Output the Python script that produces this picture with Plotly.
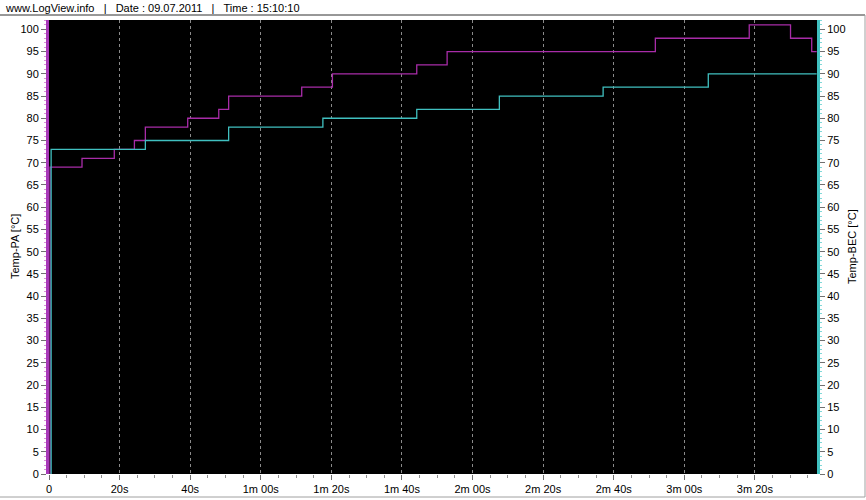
import plotly.graph_objects as go

# ---- data ----
pa_time = [0.3, 0.3, 9.35, 18.5, 24.2, 27.3, 39.3, 48.1, 50.9, 71.6, 80.3, 104.2, 112.8, 171.8, 198.4, 210.1, 216.1, 217.5]
pa_vals = [0, 69, 71, 73, 75, 78, 80, 82, 85, 87, 90, 92, 95, 98, 101, 98, 95, 95]

bec_time = [0.6, 0.6, 27.3, 50.9, 77.6, 104.2, 127.6, 157.0, 186.8, 217.5]
bec_vals = [0, 73, 75, 78, 80, 82, 85, 87, 90, 90]

x_tickvals = [0, 20, 40, 60, 80, 100, 120, 140, 160, 180, 200]
x_ticktext = ["0", "20s", "40s", "1m 00s", "1m 20s", "1m 40s", "2m 00s", "2m 20s", "2m 40s", "3m 00s", "3m 20s"]
y_tickvals = list(range(0, 101, 5))

header = "www.LogView.info\u00a0\u00a0\u00a0|\u00a0\u00a0\u00a0Date : 09.07.2011\u00a0\u00a0\u00a0|\u00a0\u00a0\u00a0Time : 15:10:10"

PA_COLOR = "#a82ca8"
BEC_COLOR = "#40c0c0"
FONT = "Liberation Sans, Arial, sans-serif"

W, H = 866, 500
L, R, T, B = 49, 817, 20, 474
pw, ph = R - L, B - T

def px(x):
    return (x - L) / pw

def py(y):
    return (B - y) / ph

fig = go.Figure()
fig.add_trace(go.Scatter(x=pa_time, y=pa_vals, mode="lines", line=dict(color=PA_COLOR, width=1.3, shape="hv"),
                         name="Temp-PA", yaxis="y"))
fig.add_trace(go.Scatter(x=bec_time, y=bec_vals, mode="lines", line=dict(color=BEC_COLOR, width=1.3, shape="hv"),
                         name="Temp-BEC", yaxis="y2"))

fig.update_layout(
    width=W, height=H,
    margin=dict(l=L, r=W - R, t=T, b=H - B, pad=0, autoexpand=False),
    paper_bgcolor="white",
    plot_bgcolor="black",
    showlegend=False,
    font=dict(family=FONT, size=11, color="black"),
    xaxis=dict(
        range=[0, 217.6], tickvals=x_tickvals, ticktext=x_ticktext, automargin=False,
        ticks="outside", ticklen=5, tickcolor="#707070", tickwidth=1,
        minor=dict(dtick=5, tick0=0, ticks="outside", ticklen=3, tickcolor="#909090", showgrid=False),
        showgrid=True, gridcolor="#8a8a8a", griddash="3px,3px", gridwidth=1,
        zeroline=False, showline=False, tickfont=dict(size=11, family=FONT),
    ),
    yaxis=dict(
        range=[0, 102.1], tickvals=y_tickvals, ticks="outside", ticklen=5, tickcolor="#707070",
        minor=dict(dtick=1, tick0=0, ticks="outside", ticklen=2, tickcolor="#d890d8", showgrid=False),
        showgrid=False, zeroline=False, showline=True, linecolor="#a838b8", linewidth=3, automargin=False,
        tickfont=dict(size=11, family=FONT),
    ),
    yaxis2=dict(
        range=[0, 102.1], tickvals=y_tickvals, ticks="outside", ticklen=5, tickcolor="#707070",
        minor=dict(dtick=1, tick0=0, ticks="outside", ticklen=2, tickcolor="#80d8d8", showgrid=False),
        overlaying="y", side="right", anchor="x", automargin=False,
        showgrid=False, zeroline=False, showline=True, linecolor=BEC_COLOR, linewidth=3,
        tickfont=dict(size=11, family=FONT),
    ),
    annotations=[
        dict(text=header, x=px(3), y=py(8), xref="paper", yref="paper", xanchor="left", yanchor="middle",
             showarrow=False, font=dict(size=11, family=FONT, color="black")),
        dict(text="Temp-PA [°C]", x=px(15), y=0.5, xref="paper", yref="paper", textangle=-90,
             xanchor="center", yanchor="middle", showarrow=False, font=dict(size=11, family=FONT)),
        dict(text="Temp-BEC [°C]", x=px(852), y=0.5, xref="paper", yref="paper", textangle=-90,
             xanchor="center", yanchor="middle", showarrow=False, font=dict(size=11, family=FONT)),
    ],
    shapes=[
        dict(type="line", xref="paper", yref="paper", x0=px(0), x1=px(865), y0=py(15), y1=py(15),
             line=dict(color="#303030", width=1)),
        dict(type="line", xref="paper", yref="paper", x0=px(0), x1=px(865), y0=py(497), y1=py(497),
             line=dict(color="#a0a0a0", width=1)),
        dict(type="line", xref="paper", yref="paper", x0=px(865), x1=px(865), y0=py(15), y1=py(497),
             line=dict(color="#a0a0a0", width=1)),
    ],
)

fig.write_html("out.html", config={"displayModeBar": False},
               post_script="document.body.style.margin='0';document.body.style.overflow='hidden';")
